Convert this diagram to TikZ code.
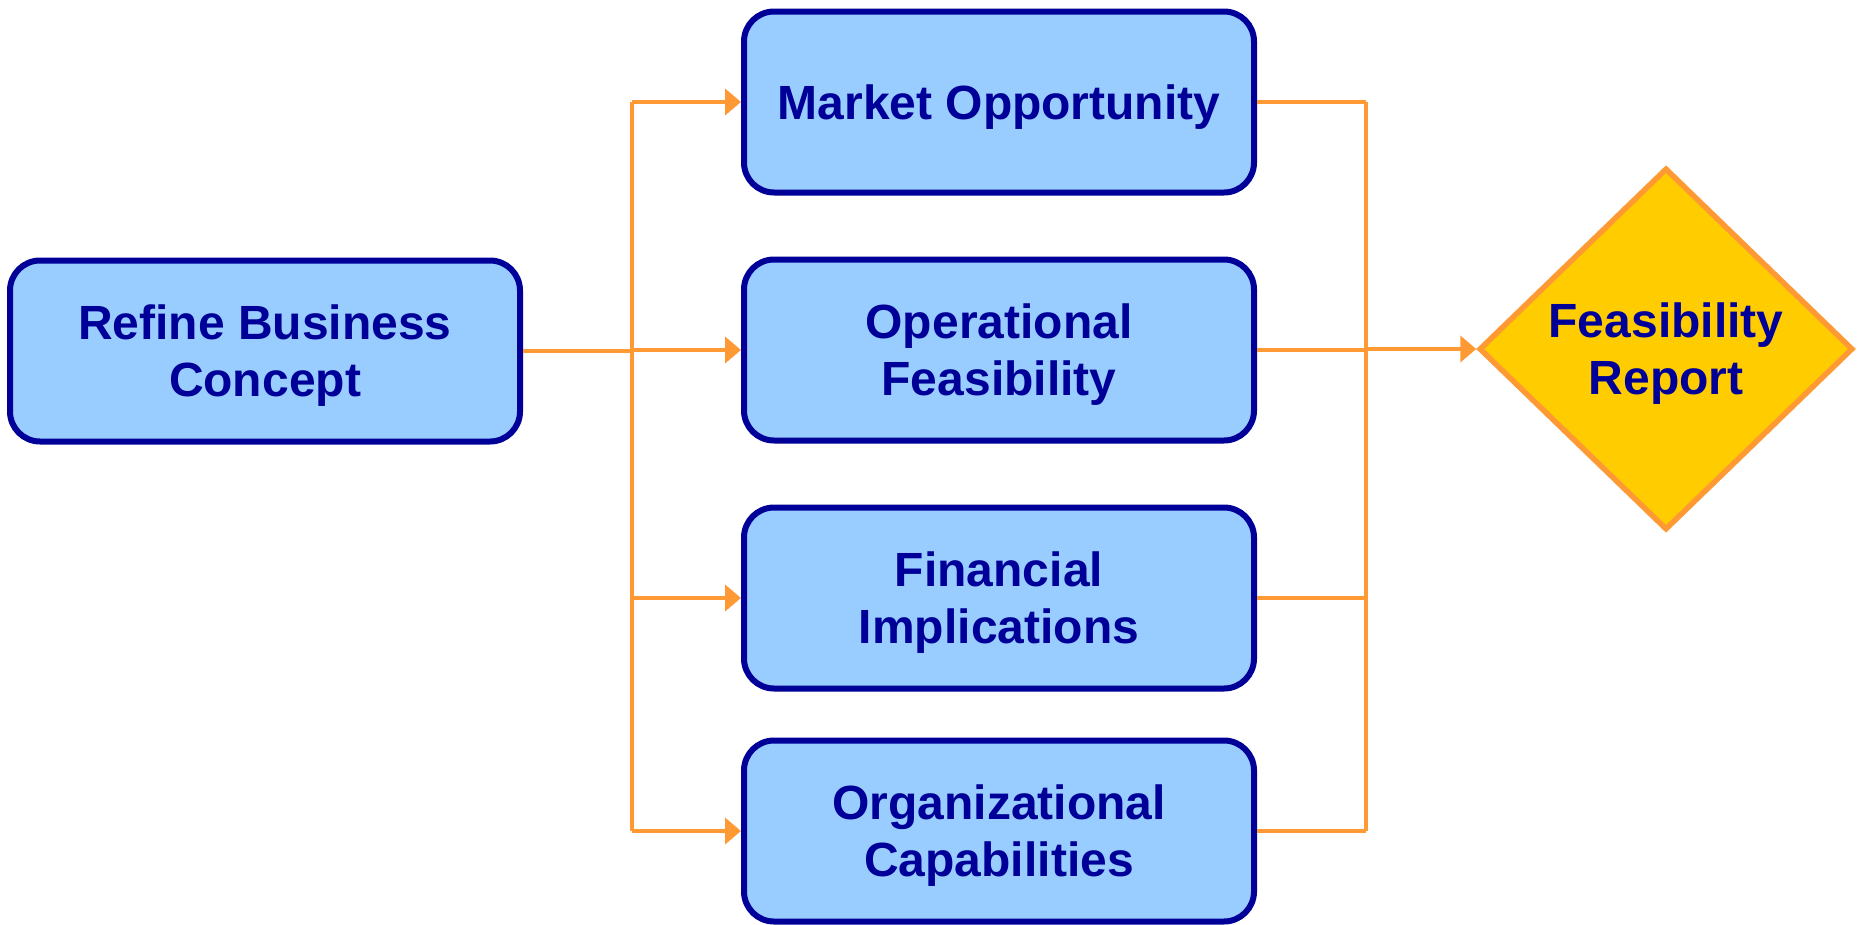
\documentclass[tikz,border=0pt]{standalone}
\usepackage{fontspec}
\setmainfont{Liberation Sans}
\usetikzlibrary{shapes,arrows.meta,positioning,calc}

\definecolor{boxfill}{HTML}{99CCFF}
\definecolor{boxline}{HTML}{000099}
\definecolor{linkcol}{HTML}{FF9933}
\definecolor{reportfill}{HTML}{FFCC00}

\tikzset{
  stage/.style={draw=boxline, fill=boxfill, line width=6pt, rounded corners=30pt,
    minimum width=510pt, minimum height=181pt, inner sep=0pt},
  report/.style={diamond, draw=linkcol, fill=reportfill, line width=5.5pt,
    aspect=1, minimum width=374pt, minimum height=362pt, inner sep=0pt},
  link/.style={draw=linkcol, line width=4pt},
  arrowlink/.style={link, -{Triangle[length=16pt,width=26pt]}}
}

\begin{document}
\begin{tikzpicture}[x=1pt,y=-1pt,
  every node/.style={font=\fontsize{48}{57}\selectfont\bfseries, text=boxline,
    align=center, text depth=0pt}]

\useasboundingbox (0,0) rectangle (1861,924);

%% the starting step
\node[stage] (refine) at (265,351) {Refine Business\\Concept};

%% the four studies
\def\studies{market/102/{Market Opportunity},
  operat/350/{Operational\\Feasibility},
  financ/598/{Financial\\Implications},
  organ/831/{Organizational\\Capabilities}}
\foreach \nm/\ypos/\txt in \studies
  \node[stage] (\nm) at (999,\ypos) {\txt};

%% the result
\node[report] (report) at (1666,349) {Feasibility\\Report};

%% split and merge points
\coordinate (split) at (632,351);
\coordinate (merge) at (1366,349);

\draw[link] (refine.east) -- (split |- refine.east);
\draw[link] (split |- market.west) -- (split |- organ.west);
\foreach \nm in {market,operat,financ,organ}
{
  \draw[arrowlink] (split |- \nm.west) -- (\nm.west);
  \draw[link] (\nm.east) -- (merge |- \nm.east);
}
\draw[link] (merge |- market.east) -- (merge |- organ.east);
\draw[arrowlink] (merge |- report.west) -- (report.west);

\end{tikzpicture}
\end{document}
